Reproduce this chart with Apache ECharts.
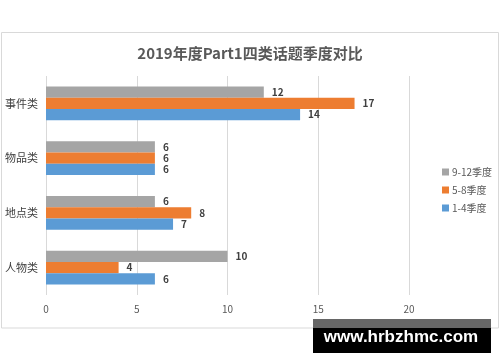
<!DOCTYPE html>
<html><head><meta charset="utf-8">
<script src="https://cdn.jsdelivr.net/npm/echarts@6/dist/echarts.min.js"></script>
<style>html,body{margin:0;padding:0;background:#fff}#c{width:500px;height:362px}</style>
</head><body><div id="c"></div>
<script>
const categories = ['人物类', '地点类', '物品类', '事件类'];
const seriesNames = ['9-12季度', '5-8季度', '1-4季度'];
const q9_12 = [10, 6, 6, 12];
const q5_8 = [4, 8, 6, 17];
const q1_4 = [6, 7, 6, 14];
const xTicks = [0, 5, 10, 15, 20];
const colors = ['#A5A5A5', '#ED7D31', '#5B9BD5'];
const values = [q9_12, q5_8, q1_4];

const chart = echarts.init(document.getElementById('c'));
const font = '"Noto Sans CJK SC", "Noto Sans", sans-serif';
chart.setOption({
  animation: false,
  textStyle: { fontFamily: font },
  title: {
    text: '2019年度Part1四类话题季度对比',
    left: 'center', top: 41,
    textStyle: { fontSize: 15, fontWeight: 'bold', color: '#595959', fontFamily: font }
  },
  legend: {
    orient: 'vertical', left: 437, top: 162,
    data: seriesNames,
    itemWidth: 7, itemHeight: 7, itemGap: 8, icon: 'rect',
    textStyle: { fontSize: 10, color: '#595959', padding: [0, 0, 0, -2] }
  },
  grid: { left: 46, right: 91, top: 76, bottom: 67, containLabel: false },
  xAxis: {
    type: 'value', min: xTicks[0], max: xTicks[xTicks.length - 1], interval: 5,
    axisLine: { show: false }, axisTick: { show: false },
    axisLabel: { fontSize: 10, color: '#595959', margin: 9 },
    splitLine: { show: true, lineStyle: { color: '#D9D9D9', width: 1 } }
  },
  yAxis: {
    type: 'category', data: categories,
    axisLine: { show: false }, axisTick: { show: false },
    axisLabel: { fontSize: 11, color: '#404040', margin: 8 }
  },
  series: seriesNames.map((n, i) => ({
    name: n, type: 'bar', data: values[i],
    barGap: '0%', barCategoryGap: '38%',
    itemStyle: { color: colors[i] },
    label: { show: true, position: 'right', distance: 8, fontSize: 10, fontWeight: 'bold', color: '#404040' }
  })),
  graphic: [
    { type: 'rect', shape: { x: 1.5, y: 32.5, width: 497, height: 295.5 }, style: { fill: 'none', stroke: '#D9D9D9', lineWidth: 1 }, z: -1 },
    { type: 'rect', shape: { x: 313, y: 319, width: 178, height: 9 }, style: { fill: '#666666' }, z: 100 },
    { type: 'rect', shape: { x: 313, y: 328, width: 178, height: 25 }, style: { fill: '#000000' }, z: 100 },
    { type: 'text', x: 401, y: 337, z: 101, style: { text: 'www.hrbzhmc.com', fill: '#ffffff', font: 'bold 17px "Liberation Sans", Arial, sans-serif', textAlign: 'center', textVerticalAlign: 'middle' } }
  ]
});
</script></body></html>
